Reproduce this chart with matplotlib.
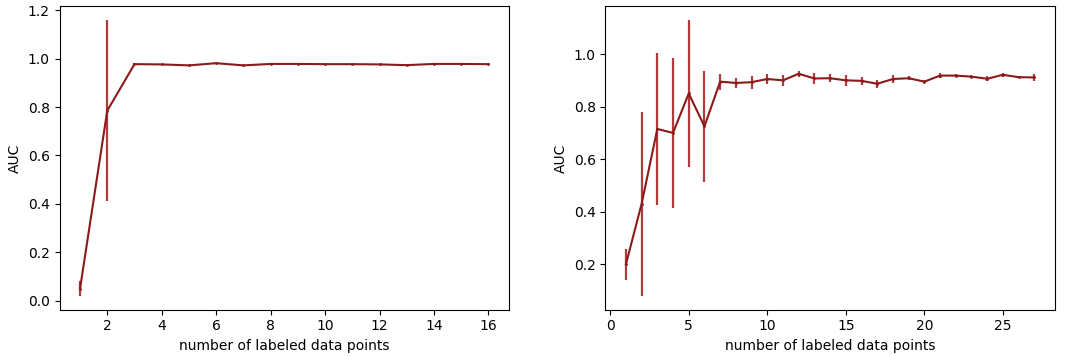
import matplotlib
matplotlib.use("Agg")
import matplotlib.pyplot as plt
import numpy as np

# left panel
x_left = list(range(1, 17))
auc_left = [0.05, 0.785, 0.977, 0.976, 0.972, 0.981, 0.972, 0.978,
            0.978, 0.977, 0.977, 0.976, 0.973, 0.978, 0.978, 0.977]
err_left = [0.03, 0.375, 0.003, 0.002, 0.003, 0.002, 0.003, 0.002,
            0.002, 0.002, 0.002, 0.002, 0.003, 0.002, 0.002, 0.003]

# right panel
x_right = list(range(1, 28))
auc_right = [0.20, 0.43, 0.715, 0.70, 0.85, 0.725, 0.895, 0.89, 0.893,
             0.905, 0.90, 0.925, 0.907, 0.908, 0.90, 0.898, 0.887, 0.905,
             0.908, 0.895, 0.918, 0.918, 0.914, 0.906, 0.921, 0.912, 0.911]
err_right = [0.06, 0.35, 0.29, 0.285, 0.28, 0.21, 0.03, 0.02, 0.025,
             0.02, 0.02, 0.012, 0.02, 0.015, 0.02, 0.015, 0.015, 0.015,
             0.008, 0.005, 0.01, 0.005, 0.005, 0.01, 0.008, 0.005, 0.012]

fig, axes = plt.subplots(1, 2, figsize=(10.84, 3.56), dpi=100)

for ax, x, y, e in [(axes[0], x_left, auc_left, err_left),
                    (axes[1], x_right, auc_right, err_right)]:
    ax.errorbar(x, y, yerr=e, color='#8b1a1a', ecolor='#b23a3a',
                marker='.', markersize=2, linewidth=1.5, elinewidth=1.6)
    ax.set_xlabel('number of labeled data points')
    ax.set_ylabel('AUC')

axes[0].set_xticks(np.arange(2, 17, 2))

plt.subplots_adjust(left=0.055, right=0.973, bottom=0.13, top=0.983, wspace=0.215)
plt.savefig('out.png')
